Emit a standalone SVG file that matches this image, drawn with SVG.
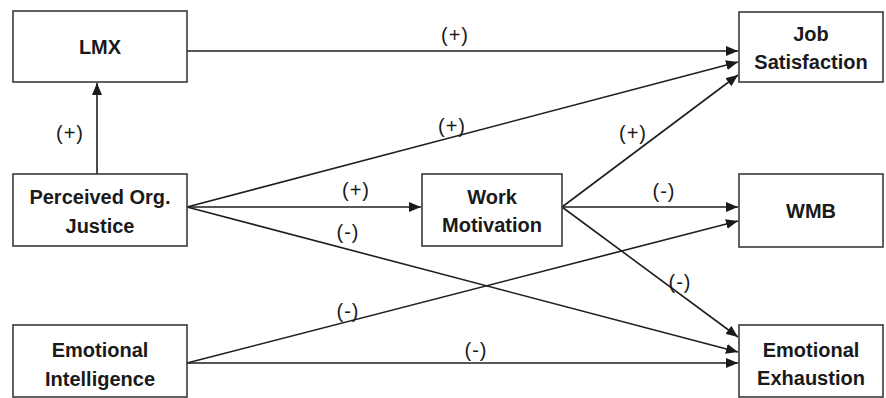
<svg xmlns="http://www.w3.org/2000/svg" width="886" height="398" viewBox="0 0 886 398">
<defs>
<marker id="ah" viewBox="0 0 12 10" refX="12" refY="5" markerWidth="12" markerHeight="10" markerUnits="userSpaceOnUse" orient="auto">
<path d="M0,0 L12,5 L0,10 Z" fill="#1a1a1a"/>
</marker>
<style>
.box{fill:#fff;stroke:#3a3a3a;stroke-width:1.6}
.nt{font-family:"Liberation Sans",Arial,sans-serif;font-weight:bold;font-size:20px;fill:#1a1a1a;text-anchor:middle}
.lb{font-family:"Liberation Sans",Arial,sans-serif;font-size:20px;fill:#1a1a1a;text-anchor:middle;letter-spacing:1px}
.c{stroke:#1e1e1e;stroke-width:1.6;fill:none;marker-end:url(#ah)}
</style>
</defs>
<rect width="886" height="398" fill="#fff"/>
<g id="connectors">
<line class="c" x1="187" y1="51" x2="738" y2="51"/>
<line class="c" x1="97" y1="174" x2="97" y2="83"/>
<line class="c" x1="187" y1="207" x2="738" y2="62"/>
<line class="c" x1="187" y1="207" x2="421" y2="207"/>
<line class="c" x1="187" y1="207" x2="738" y2="352"/>
<line class="c" x1="562" y1="207" x2="738" y2="75"/>
<line class="c" x1="562" y1="207" x2="738" y2="207"/>
<line class="c" x1="562" y1="207" x2="738" y2="337"/>
<line class="c" x1="187" y1="363" x2="738" y2="221"/>
<line class="c" x1="187" y1="363" x2="738" y2="363"/>
<text class="lb" x="455" y="42">(+)</text>
<text class="lb" x="70" y="140">(+)</text>
<text class="lb" x="452" y="133">(+)</text>
<text class="lb" x="356" y="197">(+)</text>
<text class="lb" x="348" y="239">(-)</text>
<text class="lb" x="633" y="140">(+)</text>
<text class="lb" x="664" y="198">(-)</text>
<text class="lb" x="680" y="289">(-)</text>
<text class="lb" x="348" y="318">(-)</text>
<text class="lb" x="476" y="357">(-)</text>
</g>
<g id="lmx">
<rect class="box" x="13" y="11" width="174" height="71"/>
<text class="nt" x="100" y="54">LMX</text>
</g>
<g id="poj">
<rect class="box" x="13" y="174" width="174" height="72"/>
<text class="nt" x="100" y="204">Perceived Org.</text>
<text class="nt" x="100" y="233">Justice</text>
</g>
<g id="ei">
<rect class="box" x="13" y="325" width="174" height="72"/>
<text class="nt" x="100" y="357">Emotional</text>
<text class="nt" x="100" y="386">Intelligence</text>
</g>
<g id="wm">
<rect class="box" x="422" y="174" width="140" height="72"/>
<text class="nt" x="492" y="204">Work</text>
<text class="nt" x="492" y="232">Motivation</text>
</g>
<g id="js">
<rect class="box" x="739" y="12" width="144" height="70"/>
<text class="nt" x="811" y="41">Job</text>
<text class="nt" x="811" y="69">Satisfaction</text>
</g>
<g id="wmb">
<rect class="box" x="739" y="174" width="144" height="73"/>
<text class="nt" x="811" y="218">WMB</text>
</g>
<g id="ee">
<rect class="box" x="739" y="325" width="144" height="72"/>
<text class="nt" x="811" y="357">Emotional</text>
<text class="nt" x="811" y="385">Exhaustion</text>
</g>
</svg>
